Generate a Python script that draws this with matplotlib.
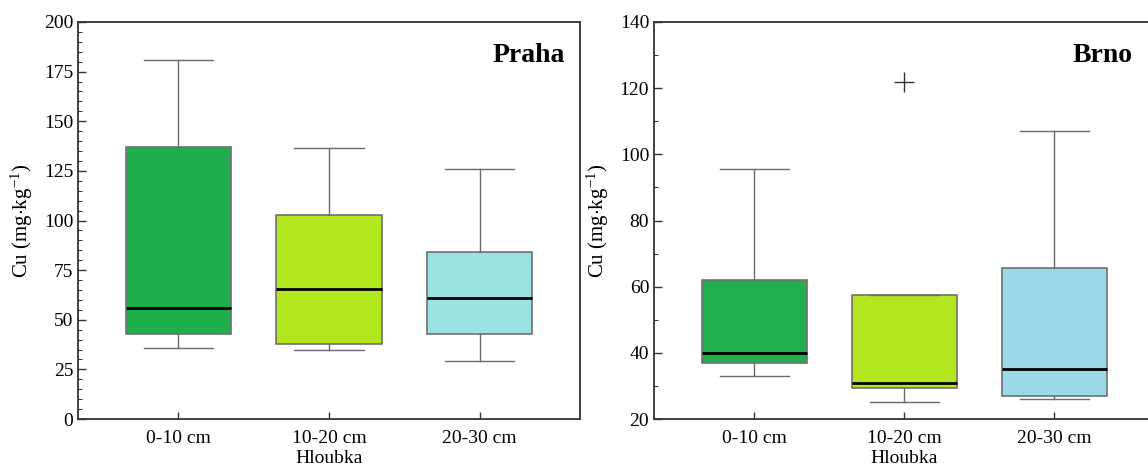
import matplotlib.pyplot as plt
from matplotlib.ticker import MultipleLocator

plt.rcParams['font.family'] = ['Liberation Serif', 'DejaVu Serif']
plt.rcParams['mathtext.fontset'] = 'custom'
plt.rcParams['mathtext.rm'] = 'Liberation Serif'
plt.rcParams['mathtext.it'] = 'Liberation Serif:italic'
plt.rcParams['mathtext.bf'] = 'Liberation Serif:bold'

depths = ['0-10 cm', '10-20 cm', '20-30 cm']
box_colors_praha = ['#20AD4B', '#B2E61D', '#9AE3E3']
box_colors_brno = ['#22AE4D', '#B3E61F', '#9BD9E8']

# Praha summary statistics per depth
praha_low = [36, 35, 29]
praha_q1 = [43, 38, 43]
praha_med = [56, 65.5, 61]
praha_q3 = [137, 103, 84]
praha_high = [181, 136.5, 126]
praha_fliers = [[], [], []]

# Brno summary statistics per depth
brno_low = [33, 25, 26]
brno_q1 = [37, 29.5, 27]
brno_med = [40, 31, 35]
brno_q3 = [62, 57.5, 65.5]
brno_high = [95.5, 57.5, 107]
brno_fliers = [[], [122], []]


def make_stats(low, q1, med, q3, high, fliers):
    stats = []
    for i in range(len(depths)):
        stats.append({'whislo': low[i], 'q1': q1[i], 'med': med[i], 'q3': q3[i],
                      'whishi': high[i], 'fliers': fliers[i], 'label': depths[i]})
    return stats


def draw_panel(ax, stats, colors, title, title_x, ylim, major, minor):
    bp = ax.bxp(stats, positions=[1, 2, 3], widths=0.7, patch_artist=True,
                showfliers=True,
                boxprops=dict(edgecolor='#707070', linewidth=1.2),
                whiskerprops=dict(color='#6a6a6a', linewidth=1.0),
                capprops=dict(color='#6a6a6a', linewidth=1.0),
                medianprops=dict(color='black', linewidth=2.0),
                flierprops=dict(marker='+', markersize=14, markeredgecolor='#333333',
                                markeredgewidth=1.0, linestyle='none'))
    for patch, c in zip(bp['boxes'], colors):
        patch.set_facecolor(c)
    for cap in bp['caps']:
        x = cap.get_xdata()
        mid = (x[0] + x[1]) / 2
        cap.set_xdata([mid - 0.23, mid + 0.23])
    ax.set_xlim(1 - 2 / 3, 3 + 2 / 3)
    ax.set_ylim(*ylim)
    ax.yaxis.set_major_locator(MultipleLocator(major))
    ax.yaxis.set_minor_locator(MultipleLocator(minor))
    ax.tick_params(axis='y', which='major', direction='in', length=6, width=1,
                   labelsize=14, color='#333333')
    ax.tick_params(axis='y', which='minor', direction='in', length=3, width=0.8,
                   color='#333333')
    ax.tick_params(axis='x', which='major', direction='in', length=5, width=1,
                   labelsize=14, pad=8, color='#333333')
    for s in ax.spines.values():
        s.set_linewidth(1.3)
        s.set_color('#333333')
    ax.set_xlabel('Hloubka', fontsize=14, labelpad=2)
    ax.set_ylabel('Cu (mg$\\cdot$kg$^{-1}$)', fontsize=15, labelpad=6)
    ax.text(title_x, 0.915, title, transform=ax.transAxes, ha='right', va='center',
            fontsize=20, fontweight='bold')


fig = plt.figure(figsize=(11.48, 4.68), dpi=100)
ax1 = fig.add_axes([78 / 1148, 49 / 468, 502 / 1148, 397 / 468])
ax2 = fig.add_axes([654 / 1148, 49 / 468, 500 / 1148, 397 / 468])

draw_panel(ax1, make_stats(praha_low, praha_q1, praha_med, praha_q3, praha_high, praha_fliers),
           box_colors_praha, 'Praha', 0.970, (0, 200), 25, 5)
draw_panel(ax2, make_stats(brno_low, brno_q1, brno_med, brno_q3, brno_high, brno_fliers),
           box_colors_brno, 'Brno', 0.958, (20, 140), 20, 10)

fig.savefig('out.png', dpi=100)
